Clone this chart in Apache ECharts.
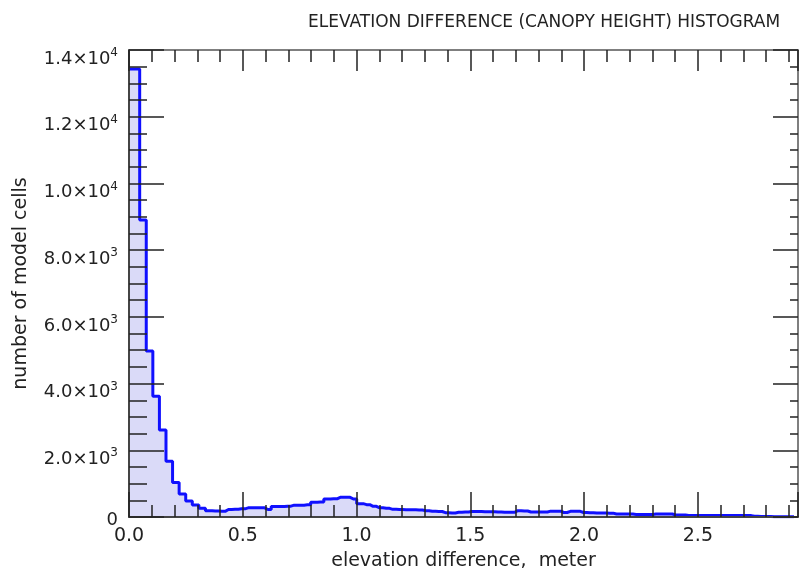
<!DOCTYPE html>
<html><head><meta charset="utf-8">
<script src="https://cdn.jsdelivr.net/npm/echarts@6/dist/echarts.min.js"></script>
<style>html,body{margin:0;padding:0;background:#fff}#c{width:801px;height:576px}</style>
</head><body><div id="c"></div>
<script>
const chartTitle = 'ELEVATION DIFFERENCE (CANOPY HEIGHT) HISTOGRAM';
const xAxisName = 'elevation difference,  meter';
const yAxisName = 'number of model cells';

// histogram bins: centre of bin i = binOffset + i * binWidth (meters)
const binWidth = 0.0289;
const binOffset = 0.0036;
const counts = [
  13430, 13430, 8900, 4980, 3620, 2610, 1675, 1035, 690, 480,
  360, 265, 190, 180, 170, 225, 230, 245, 275, 275,
  275, 225, 314, 314, 325, 355, 355, 364, 444, 450,
  540, 545, 590, 590, 540, 400, 370, 320, 275, 260,
  230, 225, 220, 215, 210, 190, 170, 165, 130, 120,
  140, 150, 165, 165, 160, 160, 150, 140, 140, 190,
  180, 150, 148, 150, 175, 175, 135, 170, 170, 135,
  130, 118, 118, 115, 90, 90, 88, 78, 77, 77,
  88, 88, 88, 60, 58, 48, 47, 47, 47, 47,
  45, 45, 44, 44, 42, 20, 15, 12, 10, 10,
  8, 6
];

const xTickValues = [0, 0.5, 1.0, 1.5, 2.0, 2.5];
const xTickLabels = ['0.0', '0.5', '1.0', '1.5', '2.0', '2.5'];
const yTickValues = [0, 2000, 4000, 6000, 8000, 10000, 12000, 14000];
const yTickMantissas = ['0', '2.0', '4.0', '6.0', '8.0', '1.0', '1.2', '1.4'];
const yTickExponents = ['', '3', '3', '3', '3', '4', '4', '4'];

const FONT = 'DejaVu Sans';
const TXT = '#222';

const seriesData = counts.map((v, i) => [binOffset + i * binWidth, v]);

const yLabelMap = {};
yTickValues.forEach((v, i) => {
  yLabelMap[v] = yTickExponents[i]
    ? '{a|' + yTickMantissas[i] + '×10}{s|' + yTickExponents[i] + '}'
    : '{z|' + yTickMantissas[i] + '}';
});
const xLabelMap = {};
xTickValues.forEach((v, i) => { xLabelMap[v.toFixed(2)] = xTickLabels[i]; });

const tickStyle = { color: '#222', width: 1.5 };

const chart = echarts.init(document.getElementById('c'), null, { renderer: 'canvas' });
chart.setOption({
  animation: false,
  backgroundColor: '#fff',
  title: {
    text: chartTitle, left: 303, top: 9,
    textStyle: { fontFamily: FONT, fontSize: 17, fontWeight: 'normal', color: TXT }
  },
  grid: { left: 129, right: 0.5, top: 50, bottom: 53 },
  xAxis: [
    {
      type: 'value', position: 'bottom', min: 0, max: 2.94, interval: 0.5, z: 3,
      name: xAxisName, nameLocation: 'middle', nameGap: 35,
      nameTextStyle: { fontFamily: FONT, fontSize: 19, color: TXT },
      axisLine: { onZero: false, lineStyle: { color: '#444', width: 2 } },
      axisTick: { inside: true, length: 25, lineStyle: tickStyle },
      minorTick: { show: true, splitNumber: 5, length: 12, lineStyle: tickStyle },
      splitLine: { show: false },
      axisLabel: {
        margin: 10, fontFamily: FONT, fontSize: 19, color: TXT,
        formatter: v => xLabelMap[v.toFixed(2)] || ''
      }
    },
    {
      type: 'value', position: 'top', min: 0, max: 2.94, interval: 0.5, z: 3,
      axisLine: { onZero: false, lineStyle: { color: '#555', width: 1.5 } },
      axisTick: { inside: true, length: 21, lineStyle: tickStyle },
      minorTick: { show: true, splitNumber: 5, length: 12, lineStyle: tickStyle },
      splitLine: { show: false },
      axisLabel: { show: false }
    }
  ],
  yAxis: [
    {
      type: 'value', position: 'left', min: 0, max: 14000, interval: 2000, z: 3,
      name: yAxisName, nameLocation: 'middle', nameGap: 98,
      nameTextStyle: { fontFamily: FONT, fontSize: 19, color: TXT },
      axisLine: { onZero: false, lineStyle: { color: '#444', width: 2 } },
      axisTick: { inside: true, length: 35, lineStyle: tickStyle },
      minorTick: { show: true, splitNumber: 4, length: 18, lineStyle: tickStyle },
      splitLine: { show: false },
      axisLabel: {
        margin: 11, color: TXT,
        formatter: v => yLabelMap[v] || '',
        rich: {
          a: { fontFamily: FONT, fontSize: 18, lineHeight: 18, color: TXT, padding: [18, 0, 0, 0], verticalAlign: 'middle' },
          s: { fontFamily: FONT, fontSize: 12, lineHeight: 12, color: TXT, padding: [6, 0, 0, 0], verticalAlign: 'middle' },
          z: { fontFamily: FONT, fontSize: 18, lineHeight: 18, color: TXT, padding: [6, 0, 0, 0] }
        }
      }
    },
    {
      type: 'value', position: 'right', min: 0, max: 14000, interval: 2000, z: 3,
      axisLine: { onZero: false, lineStyle: { color: '#555', width: 1.5 } },
      axisTick: { inside: true, length: 25, lineStyle: tickStyle },
      minorTick: { show: true, splitNumber: 4, length: 8, lineStyle: tickStyle },
      splitLine: { show: false },
      axisLabel: { show: false }
    }
  ],
  series: [{
    type: 'line', step: 'middle', xAxisIndex: 0, yAxisIndex: 0,
    data: seriesData, showSymbol: false, symbol: 'none', z: 2,
    lineStyle: { color: '#1010ff', width: 3 },
    areaStyle: { color: '#dadaf8', opacity: 1 }
  }]
});
</script>
</body></html>
